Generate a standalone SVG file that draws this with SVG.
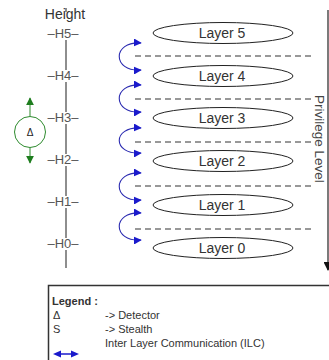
<svg xmlns="http://www.w3.org/2000/svg" width="329" height="360" viewBox="0 0 329 360">
<defs>
<style>
text{font-family:"Liberation Sans",Arial,sans-serif;fill:#333}
.h{font-size:13px;text-anchor:middle;fill:#555}
.lay ellipse{fill:#fff;stroke:#222;stroke-width:1}
.lay text{font-size:14px;text-anchor:middle}
.dash{stroke:#777;stroke-width:1.3;stroke-dasharray:6,4}
.ilc{fill:none;stroke:#2a2ab0;stroke-width:1.1;marker-start:url(#ba);marker-end:url(#ba)}
.lg{font-size:11px}
</style>
<marker id="ba" viewBox="0 0 10 10" refX="9" refY="5" markerWidth="8" markerHeight="8" markerUnits="userSpaceOnUse" orient="auto-start-reverse"><path d="M0,0L10,5L0,10z" fill="#1a1acc"/></marker>
<marker id="ga" viewBox="0 0 10 10" refX="9" refY="5" markerWidth="8" markerHeight="9" markerUnits="userSpaceOnUse" orient="auto"><path d="M0,0L10,5L0,10z" fill="#1e7d1e"/></marker>
<marker id="ka" viewBox="0 0 10 10" refX="9" refY="5" markerWidth="9" markerHeight="9" markerUnits="userSpaceOnUse" orient="auto"><path d="M0,0L10,5L0,10z" fill="#111"/></marker>
</defs>

<g id="height-axis">
<text x="65" y="19" style="font-size:14px;text-anchor:middle">Height</text>
<path d="M66 8V12M66 40V70M66 82V112M66 124V154M66 166V196M66 208V238M66 250V268" stroke="#444" stroke-width="1.2" fill="none"/>
<text class="h" x="63" y="38">–H5–</text>
<text class="h" x="63" y="80">–H4–</text>
<text class="h" x="63" y="122">–H3–</text>
<text class="h" x="63" y="164">–H2–</text>
<text class="h" x="63" y="206">–H1–</text>
<text class="h" x="63" y="248">–H0–</text>
</g>

<g id="detector">
<circle cx="30" cy="132" r="15.5" fill="#fff" stroke="#2e8b2e" stroke-width="1"/>
<text x="30" y="136" style="font-size:10px;text-anchor:middle;fill:#222">Δ</text>
<line x1="30" y1="116" x2="30" y2="98" stroke="#2e8b2e" stroke-width="1" marker-end="url(#ga)"/>
<line x1="30" y1="148" x2="30" y2="163" stroke="#2e8b2e" stroke-width="1" marker-end="url(#ga)"/>
</g>

<g id="layer5" class="lay"><ellipse cx="223" cy="33" rx="70" ry="10.5"/><text x="222" y="38">Layer 5</text></g>
<g id="layer4" class="lay"><ellipse cx="223" cy="76" rx="70" ry="10.5"/><text x="222" y="81">Layer 4</text></g>
<g id="layer3" class="lay"><ellipse cx="223" cy="118" rx="70" ry="10.5"/><text x="222" y="123">Layer 3</text></g>
<g id="layer2" class="lay"><ellipse cx="223" cy="161" rx="70" ry="10.5"/><text x="222" y="166">Layer 2</text></g>
<g id="layer1" class="lay"><ellipse cx="223" cy="205" rx="70" ry="10.5"/><text x="222" y="210">Layer 1</text></g>
<g id="layer0" class="lay"><ellipse cx="223" cy="248" rx="70" ry="10.5"/><text x="222" y="253">Layer 0</text></g>

<g id="privilege-level">
<line x1="328" y1="10" x2="328" y2="270" stroke="#222" stroke-width="1.2" marker-end="url(#ka)"/>
<text transform="translate(315 95) rotate(90)" style="font-size:13.5px;fill:#444">Privilege Level</text>
</g>

<g id="connectors">
<line class="dash" x1="135" y1="56" x2="313" y2="56"/>
<line class="dash" x1="135" y1="99" x2="313" y2="99"/>
<line class="dash" x1="135" y1="142" x2="313" y2="142"/>
<line class="dash" x1="135" y1="186" x2="313" y2="186"/>
<line class="dash" x1="135" y1="229" x2="313" y2="229"/>
<path class="ilc" d="M141 43C112 41,112 72,141 70"/>
<path class="ilc" d="M141 85C112 83,112 114,141 112"/>
<path class="ilc" d="M141 128C112 126,112 155,141 153"/>
<path class="ilc" d="M141 173C112 171,112 202,141 200"/>
<path class="ilc" d="M141 213C112 211,112 242,141 240"/>
</g>

<g id="legend">
<rect x="48.5" y="285.5" width="300" height="100" fill="#fff" stroke="#333" stroke-width="1.5"/>
<text class="lg" x="52" y="305" style="font-weight:bold">Legend :</text>
<text class="lg" x="53" y="319">Δ</text>
<text class="lg" x="105" y="319">-&gt; Detector</text>
<text class="lg" x="53" y="333">S</text>
<text class="lg" x="105" y="333">-&gt; Stealth</text>
<text class="lg" x="105" y="347">Inter Layer Communication (ILC)</text>
<path d="M53 354L61 350.5V357.5zM79 354L71 350.5V357.5z" fill="#1a1acc"/>
<line x1="60" y1="354" x2="72" y2="354" stroke="#1a1acc" stroke-width="1.5"/>
</g>
</svg>
